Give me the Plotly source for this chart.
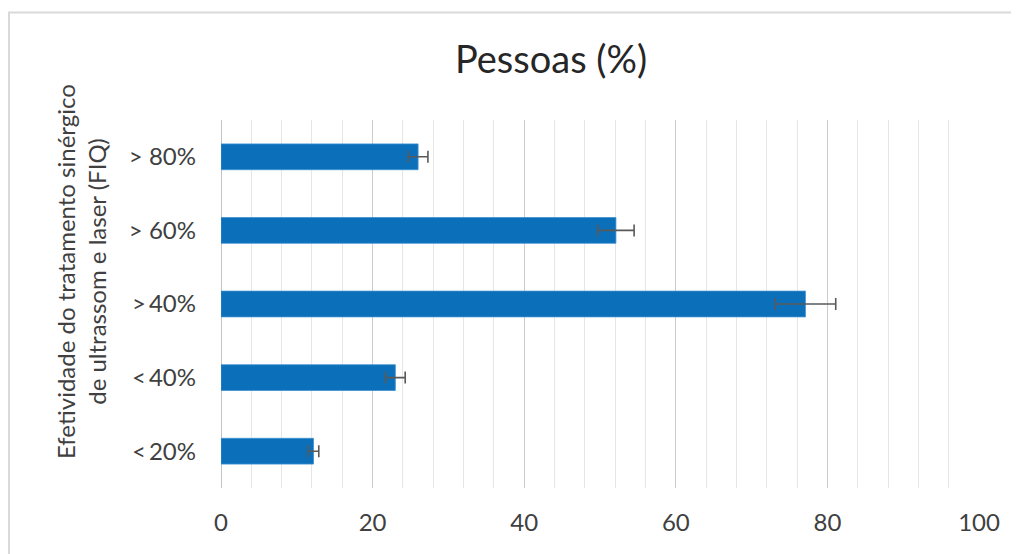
import plotly.graph_objects as go

categories = ["<\u200920%", "<\u200940%", ">\u200940%", "> 60%", "> 80%"]
values = [12.2, 23.0, 77.1, 52.1, 26.0]
errors = [0.7, 1.3, 4.0, 2.4, 1.3]
x_ticks = [0, 20, 40, 60, 80, 100]

title_text = "Pessoas (%)"
ytitle_text = "Efetividade do tratamento sinérgico<br>de ultrassom e laser (FIQ)"

FONT = "Lato, Carlito, Calibri, sans-serif"
# page body has an 8px margin: work in figure coordinates (window - 8)
OFF = 8
W, H = 1019 - OFF, 554 - OFF
L, R, T, B = 221 - OFF, 40, 120 - OFF, 66
pw, ph = W - L - R, H - T - B

def px_x(px):
    return (px - OFF - L) / pw

def px_y(py):
    return (H - B - (py - OFF)) / ph

fig = go.Figure()
fig.add_trace(go.Bar(
    y=categories, x=values, orientation="h",
    marker=dict(color="#0B70B9", line=dict(color="#3d8fd1", width=0.8)),
    width=0.35,
    error_x=dict(type="data", array=errors, visible=True,
                 color="#595959", thickness=1.6, width=6),
))

fig.update_layout(
    width=W, height=H,
    margin=dict(l=L, r=R, t=T, b=B),
    paper_bgcolor="white", plot_bgcolor="white",
    showlegend=False,
    font=dict(family=FONT, color="#404040"),
    title=dict(text=title_text, x=(551 - OFF) / W, xref="container", xanchor="center",
               y=1 - (60 - OFF) / H, yref="container", yanchor="middle",
               font=dict(size=38, color="#262626", family=FONT)),
    xaxis=dict(range=[0, 100], tickvals=x_ticks, showgrid=True,
               gridcolor="#cccccc", gridwidth=1,
               minor=dict(dtick=4, showgrid=True, gridcolor="#e6e6e6", gridwidth=1),
               zeroline=True, zerolinecolor="#c4c4c4", zerolinewidth=1,
               showline=False, ticks="", ticklabelstandoff=18,
               tickfont=dict(size=24, color="#404040", family=FONT),
               fixedrange=True),
    yaxis=dict(categoryorder="array", categoryarray=categories,
               range=[-0.5, 4.5], showgrid=False, showline=False, ticks="",
               ticklabelstandoff=24,
               tickfont=dict(size=24, color="#404040", family=FONT),
               fixedrange=True),
    shapes=[dict(type="rect", xref="paper", yref="paper",
                 x0=px_x(9), x1=px_x(1040), y0=px_y(12.5), y1=px_y(580),
                 line=dict(color="#d9d9d9", width=2), fillcolor="rgba(0,0,0,0)",
                 layer="below")],
    annotations=[dict(text=ytitle_text, xref="paper", yref="paper",
                      x=px_x(81), y=px_y(272), textangle=-90, showarrow=False,
                      xanchor="center", yanchor="middle", align="center",
                      font=dict(size=24, color="#404040", family=FONT))],
)

fig.write_html("out.html")
